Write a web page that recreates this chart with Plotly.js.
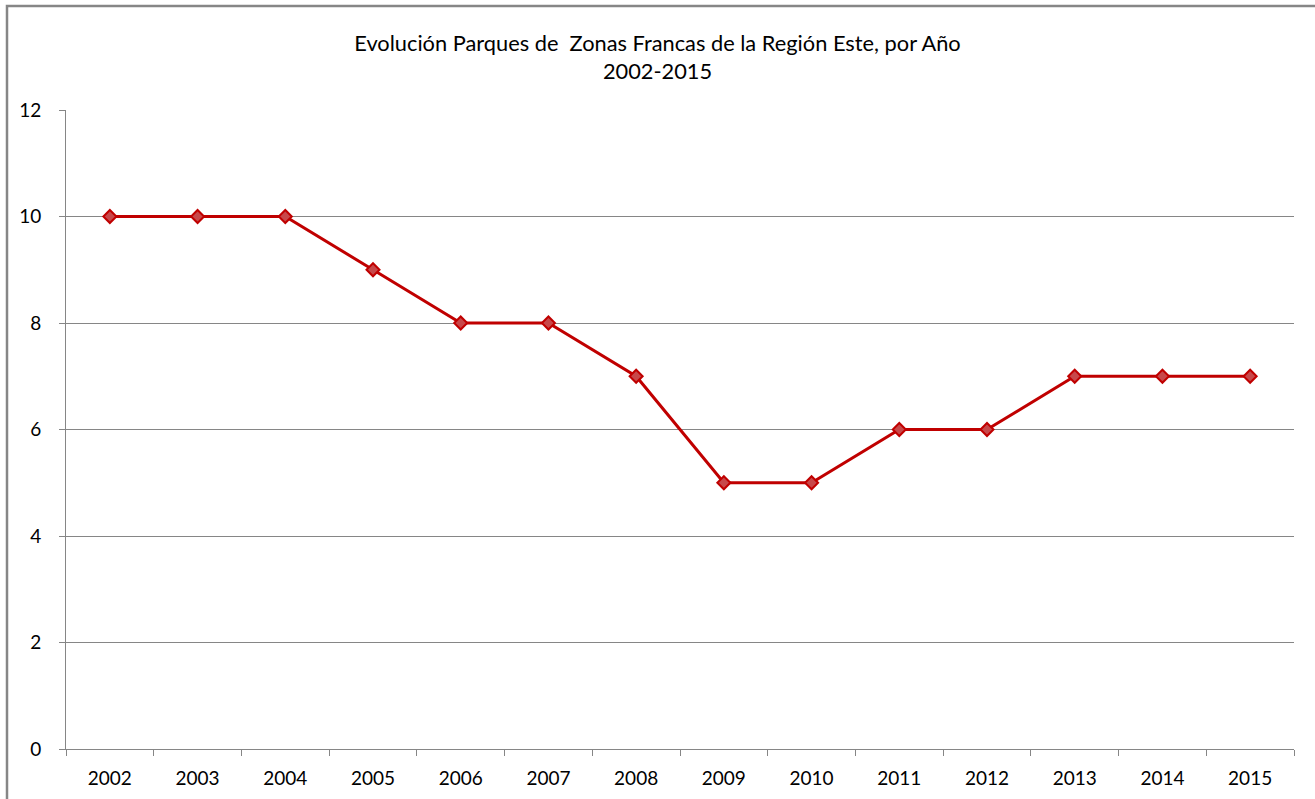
<!DOCTYPE html>
<html>
<head>
<meta charset="utf-8">
<script src="https://cdn.plot.ly/plotly-3.0.1.min.js"></script>
<style>
html,body{margin:0;padding:0;background:#fff;}
#chart{width:1315px;height:799px;}
</style>
</head>
<body>
<div id="chart"></div>
<script>
const years = ["2002","2003","2004","2005","2006","2007","2008","2009","2010","2011","2012","2013","2014","2015"];
const parques = [10,10,10,9,8,8,7,5,5,6,6,7,7,7];
const yTicks = [0,2,4,6,8,10,12];
const titleText = "Evolución Parques de  Zonas Francas de la Región Este, por Año<br>2002-2015";

const trace = {
  x: years,
  y: parques,
  type: 'scatter',
  mode: 'lines+markers',
  line: {color: '#C00000', width: 3},
  marker: {symbol: 'diamond', size: 10, color: '#C8484A', line: {color: '#C00000', width: 2}},
  hoverinfo: 'x+y'
};

const layout = {
  width: 1315, height: 799,
  margin: {l: 66, r: 21, t: 110, b: 50},
  paper_bgcolor: '#fff', plot_bgcolor: '#fff',
  font: {family: 'Lato, "Open Sans", sans-serif', size: 19, color: '#000'},
  showlegend: false,
  title: {
    text: titleText,
    font: {family: 'Lato, "Open Sans", sans-serif', size: 21.8, color: '#000'},
    x: 0.5, xref: 'container', xanchor: 'center',
    y: 1 - 51/799, yref: 'container', yanchor: 'top'
  },
  xaxis: {
    type: 'category',
    range: [-0.5, years.length - 0.5],
    tickson: 'boundaries',
    ticks: 'outside', ticklen: 6, tickcolor: '#868686', tickwidth: 1,
    showline: true, linecolor: '#868686', linewidth: 1,
    showgrid: false, zeroline: false,
    tickfont: {size: 19, color: '#000'},
    ticklabelstandoff: 12,
    fixedrange: true
  },
  yaxis: {
    range: [0, 12],
    tickvals: yTicks,
    ticks: 'outside', ticklen: 6, tickcolor: '#868686', tickwidth: 1,
    showline: true, linecolor: '#868686', linewidth: 1,
    showgrid: true, gridcolor: '#868686', gridwidth: 1,
    zeroline: false,
    tickfont: {size: 19, color: '#000'},
    ticklabelstandoff: 14,
    fixedrange: true
  },
  shapes: [{
    type: 'rect', xref: 'paper', yref: 'paper',
    x0: (7 - 66) / 1228, x1: 1.1,
    y0: -0.2, y1: (749 - 6) / 639,
    line: {color: '#868686', width: 2.5},
    fillcolor: 'rgba(0,0,0,0)',
    layer: 'below'
  }]
};

Plotly.newPlot('chart', [trace], layout, {displayModeBar: false});
</script>
</body>
</html>
